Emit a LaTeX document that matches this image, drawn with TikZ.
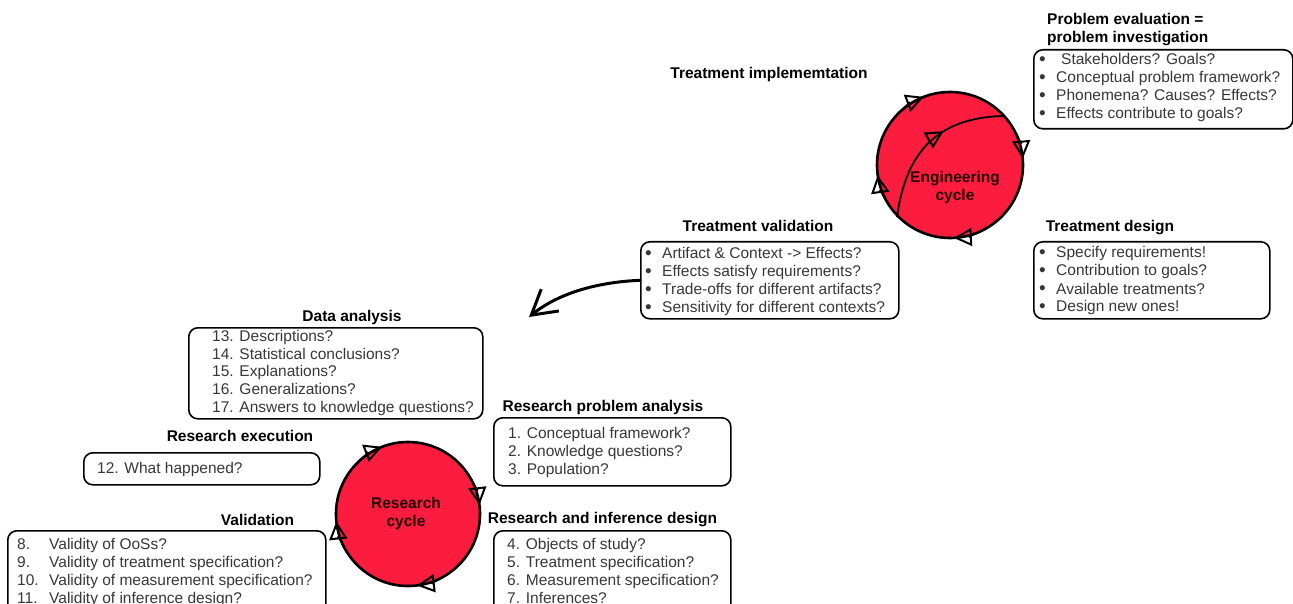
\documentclass[tikz,border=0pt]{standalone}
\usepackage{fontspec}
\setmainfont{Liberation Sans}
\usetikzlibrary{arrows.meta,calc,decorations.markings}
\definecolor{cyclered}{RGB}{252,28,62}
\definecolor{bodygray}{RGB}{55,55,55}
% one bullet line and one numbered line of a question list
\newcommand\blt[1]{\makebox[17pt][l]{\raisebox{-0.8pt}{\fontsize{19}{18}\selectfont\textbullet}}#1}
\newcommand\numit[2]{\makebox[32pt][l]{#1}#2}
\begin{document}
\begin{tikzpicture}[x=1pt,y=1pt,
  box/.style={draw, line width=1.6pt, rounded corners=9pt, anchor=north west, inner sep=0pt},
  ttl/.style={font=\fontsize{15.5}{18}\selectfont\bfseries, anchor=base, inner sep=0pt},
  body/.style={font=\fontsize{15.5}{18}\selectfont, text=bodygray, anchor=base west, inner sep=0pt},
  cyc/.style={circle, draw, line width=2.6pt, fill=cyclered, inner sep=0pt},
  cyclbl/.style={font=\fontsize{15.5}{18}\selectfont\bfseries, text=black!85!red, align=center, inner sep=0pt},
  cyctip/.style={line width=2pt, -{Triangle[open,length=18pt,width=18pt]}},
]
\useasboundingbox (0,0) rectangle (1293,-604);
\clip (0,0) rectangle (1293,-604);

% ---------- engineering cycle ----------
\node[cyc, minimum size=146pt] (ec) at (950,-165) {};
\foreach \a in {117,11,-81,194}
  \draw[cyctip] ($(ec.center)+(\a+20:73)$) arc[start angle=\a+20, end angle=\a-6, radius=73];
\draw[line width=1.8pt, postaction={decorate},
  decoration={markings, mark=at position 0.62 with {\arrow[line width=2pt]{Triangle[open,length=18pt,width=18pt]}}}]
  (897,-217) .. controls (905,-160) and (930,-118) .. (1003,-116);
\node[cyclbl] (ect) at (955,-187) {Engineering\\cycle};

% ---------- research cycle ----------
\node[cyc, minimum size=144pt] (rc) at (408,-514) {};
\foreach \a in {117,13,-77,192}
  \draw[cyctip] ($(rc.center)+(\a+20:72)$) arc[start angle=\a+20, end angle=\a-6, radius=72];
\node[cyclbl] (rct) at (406,-513.5) {Research\\cycle};

% ---------- titles ----------
\node[ttl, anchor=base west] (pet) at (1047,-24.5)
  {\begin{tabular}[t]{@{}l@{}}Problem evaluation =\\problem investigation\end{tabular}};
\node[ttl] (tit) at (769,-78.5) {Treatment implememtation};
\node[ttl] (tvt) at (758,-232) {Treatment validation};
\node[ttl] (tdt) at (1110,-231.7) {Treatment design};
\node[ttl] (dat) at (352,-321.5) {Data analysis};
\node[ttl] (rpat) at (603,-411.7) {Research problem analysis};
\node[ttl] (ret) at (240,-441.7) {Research execution};
\node[ttl] (valt) at (257.5,-525) {Validation};
\node[ttl] (ridt) at (602.5,-523) {Research and inference design};

% ---------- boxes ----------
\node[box, minimum width=259pt, minimum height=79pt] (pe) at (1033,-49) {};
\node[box, minimum width=258pt, minimum height=77pt] (tv) at (640,-241) {};
\node[box, minimum width=236pt, minimum height=77pt] (td) at (1033,-241) {};
\node[box, minimum width=294pt, minimum height=91pt] (da) at (188,-327) {};
\node[box, minimum width=237pt, minimum height=68pt] (rpa) at (493,-417) {};
\node[box, minimum width=236pt, minimum height=32pt] (re) at (83,-452) {};
\node[box, minimum width=318pt, minimum height=90pt] (val) at (7,-530) {};
\node[box, minimum width=237pt, minimum height=90pt] (rid) at (493,-530) {};

% ---------- box contents ----------
\node[body] (peb) at (1039,-64.5) {\begin{tabular}[t]{@{}l@{}}
  \blt{\hspace{5pt}Stakeholders? Goals?}\\
  \blt{Conceptual problem framework?}\\
  \blt{Phonemena? Causes? Effects?}\\
  \blt{Effects contribute to goals?}\end{tabular}};
\node[body] (tvb) at (645,-258.3) {\begin{tabular}[t]{@{}l@{}}
  \blt{Artifact \& Context -> Effects?}\\
  \blt{Effects satisfy requirements?}\\
  \blt{Trade-offs for different artifacts?}\\
  \blt{Sensitivity for different contexts?}\end{tabular}};
\node[body] (tdb) at (1039,-258) {\begin{tabular}[t]{@{}l@{}}
  \blt{Specify requirements!}\\
  \blt{Contribution to goals?}\\
  \blt{Available treatments?}\\
  \blt{Design new ones!}\end{tabular}};
\node[body, font=\fontsize{15.5}{17.7}\selectfont] (dab) at (212,-341.5) {\begin{tabular}[t]{@{}l@{}}
  13. Descriptions?\\
  14. Statistical conclusions?\\
  15. Explanations?\\
  16. Generalizations?\\
  17. Answers to knowledge questions?\end{tabular}};
\node[body] (rpab) at (508,-438.3) {\begin{tabular}[t]{@{}l@{}}
  1. Conceptual framework?\\
  2. Knowledge questions?\\
  3. Population?\end{tabular}};
\node[body] (reb) at (97,-473.3) {12. What happened?};
\node[body] (valb) at (17,-549.3) {\begin{tabular}[t]{@{}l@{}}
  \numit{8.}{Validity of OoSs?}\\
  \numit{9.}{Validity of treatment specification?}\\
  \numit{10.}{Validity of measurement specification?}\\
  \numit{11.}{Validity of inference design?}\end{tabular}};
\node[body] (ridb) at (507,-549.3) {\begin{tabular}[t]{@{}l@{}}
  4. Objects of study?\\
  5. Treatment specification?\\
  6. Measurement specification?\\
  7. Inferences?\end{tabular}};

% ---------- hand-over arrow ----------
\coordinate (daend) at (529,-317);
\draw[line width=3pt, line cap=round, -{Straight Barb[length=24pt,width=28pt]}]
  (tv.west) .. controls (600,-282) and (560,-292) .. (daend);
\end{tikzpicture}
\end{document}
